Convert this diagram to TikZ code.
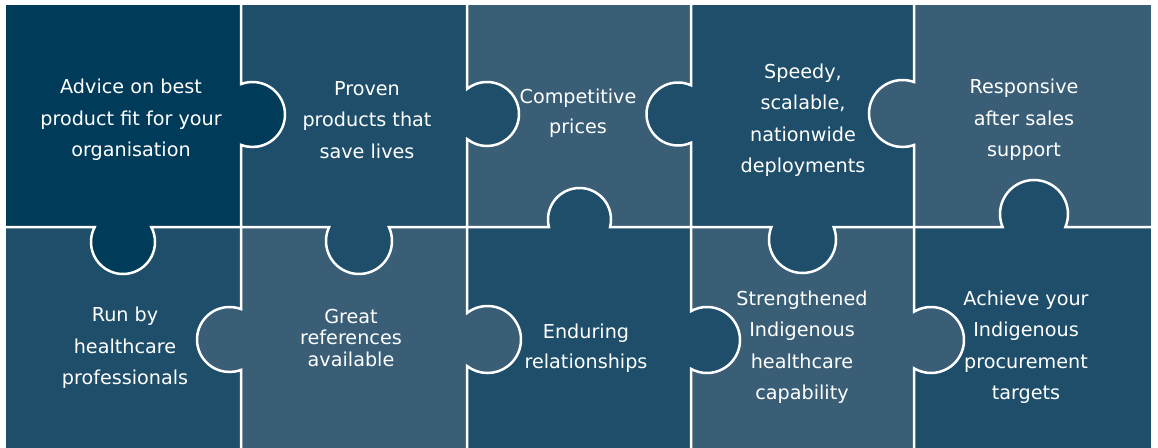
\documentclass[tikz,border=0pt]{standalone}
\usepackage{fontspec}
\setmainfont{DejaVu Sans}
\definecolor{cDark}{HTML}{013B5A}
\definecolor{cMed}{HTML}{1E4E6A}
\definecolor{cLight}{HTML}{395E76}
% vertical seam, knob into the right side: bx ya yb cy d r
\newcommand\vseamR[6]{\draw[seam] (#1,#2) -- ({#1},{#4-sqrt(#6*#6-#5*#5)}) arc[start angle={-acos(-#5/#6)}, end angle={acos(-#5/#6)}, radius=#6] -- (#1,#3);}
% vertical seam, knob into the left side
\newcommand\vseamL[6]{\draw[seam] (#1,#2) -- ({#1},{#4-sqrt(#6*#6-#5*#5)}) arc[start angle={360-acos(#5/#6)}, end angle={acos(#5/#6)}, radius=#6] -- (#1,#3);}
% horizontal seam, knob downward: by xa xb cx d r
\newcommand\hseamD[6]{\draw[seam] (#2,#1) -- ({#4-sqrt(#6*#6-#5*#5)},{#1}) arc[start angle={180+asin(#5/#6)}, end angle={-asin(#5/#6)}, radius=#6] -- (#3,#1);}
% horizontal seam, knob upward
\newcommand\hseamU[6]{\draw[seam] (#2,#1) -- ({#4-sqrt(#6*#6-#5*#5)},{#1}) arc[start angle={180-asin(#5/#6)}, end angle={360+asin(#5/#6)}, radius=#6] -- (#3,#1);}
\begin{document}
\begin{tikzpicture}[x=1pt,y=-1pt,
  seam/.style={white, line width=2.5pt},
  lbl/.style={text=white, align=center, inner sep=0pt, font=\fontsize{19.2}{31.5}\selectfont}]
\useasboundingbox (0,0) rectangle (1158,447);
\clip (0,0) rectangle (1158,447);
\fill[white] (0,0) rectangle (1158,447);
% pieces
\fill[cDark]  (5,4) rectangle (241,227);
\fill[cMed]   (241,4) rectangle (467,227);
\fill[cLight] (467,4) rectangle (691,227);
\fill[cMed]   (691,4) rectangle (914,227);
\fill[cLight] (914,4) rectangle (1152,227);
\fill[cMed]   (5,227) rectangle (241,450);
\fill[cLight] (241,227) rectangle (467,450);
\fill[cMed]   (467,227) rectangle (691,450);
\fill[cLight] (691,227) rectangle (914,450);
\fill[cMed]   (914,227) rectangle (1152,450);
% knobs
\fill[cDark]  (252.5,114.5) circle[radius=32.5];
\fill[cMed]   (487,114) circle[radius=32];
\fill[cMed]   (678,114) circle[radius=31.5];
\fill[cLight] (902.5,113.5) circle[radius=33.5];
\fill[cDark]  (123,242) circle[radius=32];
\fill[cMed]   (359,241) circle[radius=33];
\fill[cMed]   (579.5,219.5) circle[radius=31.5];
\fill[cMed]   (802.5,239.5) circle[radius=33.5];
\fill[cMed]   (1034,214) circle[radius=34];
\fill[cLight] (229.5,339.5) circle[radius=32.5];
\fill[cLight] (487.5,339.5) circle[radius=33.5];
\fill[cMed]   (707,340) circle[radius=33];
\fill[cLight] (931,340) circle[radius=33];
% seams
\vseamR{241}{4}{227}{114.5}{11.5}{32.5}
\vseamR{467}{4}{227}{114}{20}{32}
\vseamL{691}{4}{227}{114}{13}{31.5}
\vseamL{914}{4}{227}{113.5}{11.5}{33.5}
\vseamL{241}{227}{450}{339.5}{11.5}{32.5}
\vseamR{467}{227}{450}{339.5}{20.5}{33.5}
\vseamR{691}{227}{450}{340}{16}{33}
\vseamR{914}{227}{450}{340}{17}{33}
\hseamD{227}{5}{241}{123}{15}{32}
\hseamD{227}{241}{467}{359}{14}{33}
\hseamU{227}{467}{691}{579.5}{7.5}{31.5}
\hseamD{227}{691}{914}{802.5}{12.5}{33.5}
\hseamU{227}{914}{1152}{1034}{13}{34}
\draw[seam] (5,4) rectangle (1152,452);
% labels
\node[lbl] (t1) at (131,120) {Advice on best\\product fit for your\\organisation};
\node[lbl] (t2) at (367,120) {Proven\\products that\\save lives};
\node[lbl, font=\fontsize{19.2}{30}\selectfont] (t3) at (578,113) {Competitive\\prices};
\node[lbl] (t4) at (803,120) {Speedy,\\scalable,\\nationwide\\deployments};
\node[lbl] (t5) at (1024,120) {Responsive\\after sales\\support};
\node[lbl] (t6) at (125,348) {Run by\\healthcare\\professionals};
\node[lbl, font=\fontsize{19.2}{21.5}\selectfont] (t7) at (351,338) {Great\\references\\available};
\node[lbl, font=\fontsize{19.2}{30}\selectfont] (t8) at (586,348) {Enduring\\relationships};
\node[lbl] (t9) at (802,347) {Strengthened\\Indigenous\\healthcare\\capability};
\node[lbl] (t10) at (1026,347) {Achieve your\\Indigenous\\procurement\\targets};
\end{tikzpicture}
\end{document}
